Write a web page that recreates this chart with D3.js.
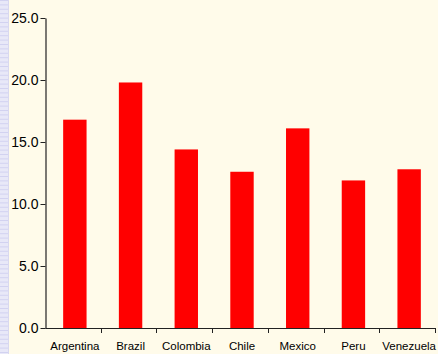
<!DOCTYPE html>
<html>
<head>
<meta charset="utf-8">
<script src="https://cdn.jsdelivr.net/npm/d3@7"></script>
<style>
  html, body { margin: 0; padding: 0; background: #FFFBEA; }
  svg { display: block; }
</style>
</head>
<body>
<script>
// Country values
const countries = ["Argentina", "Brazil", "Colombia", "Chile", "Mexico", "Peru", "Venezuela"];
const values = [16.8, 19.8, 14.4, 12.6, 16.1, 11.9, 12.8];
const yTicks = [0, 5, 10, 15, 20, 25];

const W = 438, H = 354;
const margin = { left: 46, right: 2, top: 18, bottom: 26 };

const svg = d3.select("body").append("svg")
  .attr("width", W).attr("height", H);

svg.append("rect").attr("width", W).attr("height", H).attr("fill", "#FFFBEA");

// Decorative lined strip on the left edge
const strip = svg.append("g");
strip.append("rect").attr("x", 0).attr("y", 0).attr("width", 8).attr("height", H).attr("fill", "#E8E8F8");
strip.selectAll("line.h").data(d3.range(0, H, 4.4)).join("line")
  .attr("x1", 0).attr("x2", 8).attr("y1", d => d + 0.5).attr("y2", d => d + 0.5)
  .attr("stroke", "#D2D2F0").attr("stroke-width", 1);
strip.append("line").attr("x1", 8.5).attr("x2", 8.5).attr("y1", 0).attr("y2", H)
  .attr("stroke", "#D8D8F0");

const x = d3.scaleBand()
  .domain(countries)
  .range([margin.left, W - margin.right])
  .paddingInner(0.58).paddingOuter(0.29);

const y = d3.scaleLinear()
  .domain([0, 25])
  .range([H - margin.bottom, margin.top]);

// Bars
svg.append("g").selectAll("rect").data(countries).join("rect")
  .attr("x", d => x(d) + 1)
  .attr("width", x.bandwidth())
  .attr("y", (d, i) => y(values[i]))
  .attr("height", (d, i) => y(0) - y(values[i]))
  .attr("fill", "#FF0000");

// Y axis
const yAxis = svg.append("g")
  .attr("transform", `translate(${margin.left - 0.5},0)`)
  .call(d3.axisLeft(y).tickValues(yTicks).tickFormat(d3.format(".1f")).tickSize(5).tickSizeOuter(0).tickPadding(2));
yAxis.select(".domain").attr("stroke", "#222").attr("stroke-width", 1.2);
yAxis.selectAll(".tick line").attr("stroke", "#222");
yAxis.selectAll("text")
  .attr("font-family", "Liberation Sans, Arial, sans-serif")
  .attr("font-size", 14).attr("fill", "#000");

// X axis with ticks at category boundaries
const step = x.step();
const bounds = d3.range(countries.length + 1).map(i => margin.left + i * step);
const xAxisG = svg.append("g");
xAxisG.append("line")
  .attr("x1", margin.left - 0.5).attr("x2", W - margin.right)
  .attr("y1", y(0) + 0.5).attr("y2", y(0) + 0.5)
  .attr("stroke", "#222").attr("stroke-width", 1.2);
xAxisG.selectAll("line.tk").data(bounds.slice(1)).join("line")
  .attr("class", "tk")
  .attr("x1", d => Math.round(d) - 0.5).attr("x2", d => Math.round(d) - 0.5)
  .attr("y1", y(0)).attr("y2", y(0) + 5)
  .attr("stroke", "#222");
xAxisG.selectAll("text").data(countries).join("text")
  .attr("x", d => x(d) + x.bandwidth() / 2 + 1)
  .attr("y", y(0) + 22)
  .attr("text-anchor", "middle")
  .attr("font-family", "Liberation Sans, Arial, sans-serif")
  .attr("font-size", 11.5).attr("fill", "#000")
  .text(d => d);
</script>
</body>
</html>
